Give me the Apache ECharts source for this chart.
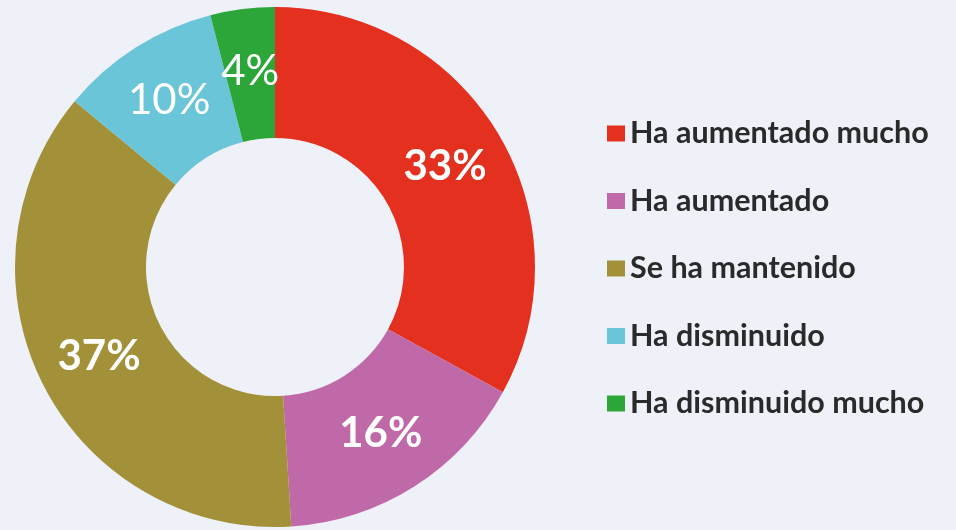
<!DOCTYPE html>
<html>
<head>
<meta charset="utf-8">
<script src="https://cdn.jsdelivr.net/npm/echarts@6/dist/echarts.min.js"></script>
<style>
html,body{margin:0;padding:0;background:#eff1f9;}
#c{width:956px;height:530px;}
</style>
</head>
<body>
<div id="c"></div>
<script>
const categories = ["Ha aumentado mucho", "Ha aumentado", "Se ha mantenido", "Ha disminuido", "Ha disminuido mucho"];
const values = [33, 16, 37, 10, 4];
const colors = ["#e3301f", "#c069a8", "#a3913a", "#6ac5d8", "#2ca639"];
const labelWeights = ["bold", "bold", "bold", "normal", "normal"];

const chart = echarts.init(document.getElementById('c'), null, {renderer: 'canvas'});
chart.setOption({
  backgroundColor: '#eff1f9',
  animation: false,
  legend: {
    orient: 'vertical',
    left: 602,
    top: 113,
    itemWidth: 18,
    itemHeight: 16,
    itemGap: 36.5,
    icon: 'rect',
    textStyle: {
      fontFamily: 'Lato',
      fontWeight: 'bold',
      fontSize: 30.5,
      color: '#2a2a2a',
      lineHeight: 30
    },
    data: categories
  },
  series: [{
    type: 'pie',
    center: [275, 267],
    radius: [129, 260],
    startAngle: 90,
    clockwise: true,
    silent: true,
    label: {
      show: true,
      position: 'inside',
      formatter: '{c}%',
      color: '#ffffff',
      fontFamily: 'Lato',
      fontSize: 42
    },
    labelLine: {show: false},
    itemStyle: {borderWidth: 0},
    data: categories.map((n, i) => ({
      name: n,
      value: values[i],
      itemStyle: {color: colors[i]},
      label: {fontWeight: labelWeights[i]}
    }))
  }]
});
</script>
</body>
</html>
